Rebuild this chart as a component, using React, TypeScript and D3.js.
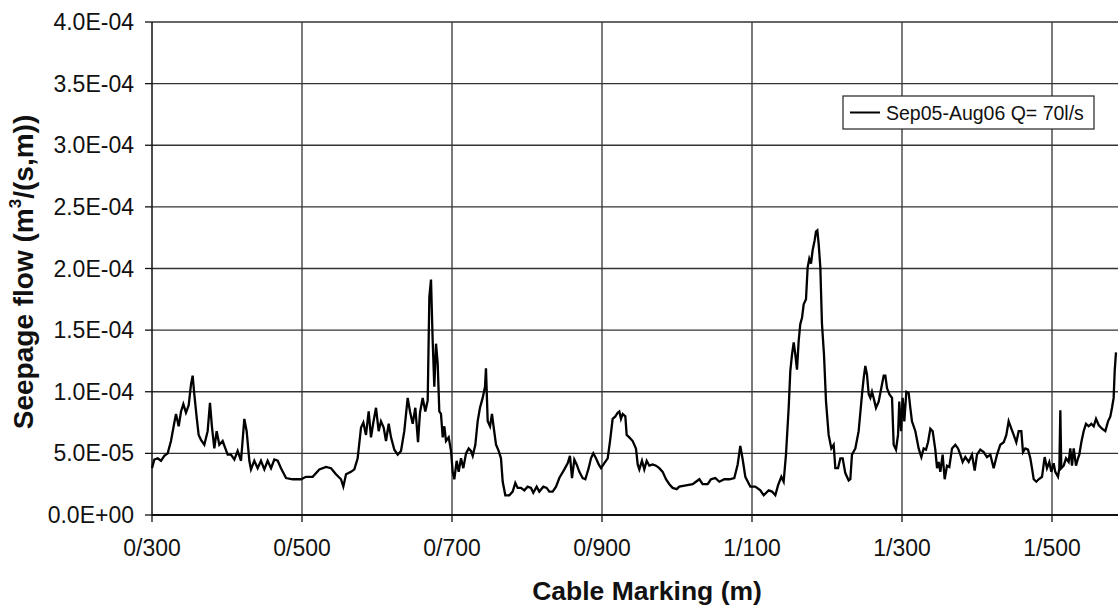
import React from 'react';
import * as d3 from 'd3';

// cable marking (m) and seepage flow (x 1E-05 m3/(s,m))
const cableMarks = [
  300, 303.1, 307.6, 312, 316.4, 320.9, 325.3, 329.8, 332, 335.6, 338.7, 341.8, 345.3, 348.9, 352, 354.2,
  356.4, 359.6, 362.2, 365.3, 369.8, 374.2, 377.3, 380, 383.1, 386.2, 389.8, 394.2, 397.8, 400.9, 405.3,
  409.8, 414.2, 418.7, 423.1, 426.2, 429.8, 432, 436.4, 440.9, 445.3, 449.8, 454.2, 458.7, 463.1, 467.6,
  472, 478.7, 487.6, 498.7, 505.3, 514.2, 523.1, 532, 538.7, 545.3, 552, 555.1, 558.7, 565.3, 569.8,
  574.2, 578.7, 581.8, 585.3, 588.9, 592, 595.1, 598.7, 602.2, 605.3, 608.9, 612, 615.6, 618.7, 623.1,
  627.6, 632, 636.4, 640.9, 644, 647.6, 651.1, 654.7, 657.3, 660.9, 664.4, 667.6, 669.8, 672, 674.2,
  676.4, 678.7, 680.9, 683.1, 685.3, 687.6, 689.8, 692, 695.6, 698.7, 700.9, 703.1, 706.2, 708.9, 712,
  715.1, 718.7, 722.2, 725.3, 727.6, 731.1, 734.2, 737.3, 740.9, 744, 745.3, 747.6, 750.7, 753.3, 755.6,
  758.7, 762.2, 765.3, 767.6, 771.1, 776.4, 780.9, 784.4, 787.6, 792, 796.4, 800.9, 805.3, 808.4, 812.9,
  816.4, 821.8, 826.2, 829.8, 834.2, 838.7, 843.1, 849.8, 854.2, 857.3, 860, 863.1, 866.2, 869.8, 874.2,
  877.8, 882.2, 885.3, 888.4, 892, 895.6, 898.7, 903.1, 907.6, 910.7, 914.2, 917.8, 920.9, 923.1, 925.3,
  927.6, 931.1, 932.9, 936.4, 940.9, 945.3, 947.6, 949.8, 953.3, 956.4, 959.6, 963.1, 967.6, 972, 976.4,
  980.9, 985.3, 989.8, 994.2, 999.6, 1003.1, 1012, 1020.9, 1025.3, 1029.8, 1034.2, 1040.9, 1045.3, 1051.1,
  1056.4, 1063.1, 1069.8, 1076.4, 1080.9, 1084.4, 1087.6, 1091.1, 1097.8, 1104.4, 1111.1, 1115.6, 1122.2,
  1126.7, 1131.1, 1134.7, 1139.1, 1142.2, 1145.3, 1148.9, 1151.1, 1153.3, 1155.6, 1157.8, 1160, 1162.2,
  1164.4, 1166.7, 1168.9, 1172, 1174.2, 1176.4, 1178.7, 1180.9, 1183.6, 1185.3, 1187.1, 1188.9, 1191.1,
  1193.3, 1196, 1198.7, 1202.2, 1205.8, 1208.9, 1211.1, 1214.7, 1217.8, 1220.9, 1224.4, 1228.9, 1231.1,
  1233.3, 1237.8, 1242.2, 1246.7, 1248.9, 1251.1, 1253.3, 1255.6, 1257.8, 1260, 1262.2, 1265.3, 1268.9,
  1272.4, 1275.6, 1277.8, 1280, 1283.1, 1286.7, 1288.9, 1292, 1294.7, 1296.4, 1298.7, 1300.9, 1303.1,
  1305.8, 1308.9, 1311.1, 1313.3, 1317.8, 1322.2, 1325.8, 1328.9, 1332, 1334.7, 1337.8, 1340.9, 1344.4,
  1346.7, 1348.9, 1351.1, 1354.2, 1356.9, 1360, 1363.1, 1366.7, 1371.1, 1374.7, 1377.8, 1380.9, 1384.4,
  1388.9, 1393.3, 1396.9, 1400, 1404.4, 1408.9, 1413.3, 1417.8, 1422.2, 1426.7, 1431.1, 1435.6, 1439.1,
  1442.2, 1445.8, 1448.9, 1452.4, 1455.6, 1459.1, 1461.3, 1464.4, 1468, 1471.1, 1473.3, 1475.6, 1479.1,
  1482.2, 1486.7, 1490.2, 1493.3, 1496.4, 1499.1, 1502.2, 1504.4, 1508, 1509.8, 1511.1, 1512.4, 1515.6,
  1518.7, 1522.2, 1524.4, 1526.7, 1528.9, 1532, 1534.7, 1536.4, 1539.1, 1542.2, 1545.3, 1548.9, 1552.4,
  1555.6, 1558.7, 1562.2, 1566.7, 1571.1, 1574.7, 1577.8, 1580, 1582.2, 1583.6, 1585.3,
];

const seepage = [
  3.8, 4.5, 4.6, 4.4, 4.8, 5.0, 6.0, 7.5, 8.2, 7.2, 8.4, 9.0, 8.3, 8.9, 10.6, 11.3,
  9.8, 7.9, 6.5, 6.1, 5.7, 6.8, 9.1, 7.1, 5.4, 6.8, 5.7, 6.0, 5.4, 4.9, 4.9,
  4.5, 5.2, 4.4, 7.8, 6.8, 4.4, 3.7, 4.4, 3.8, 4.4, 3.7, 4.4, 3.8, 4.5, 4.4,
  3.8, 3.0, 2.9, 2.9, 3.1, 3.1, 3.7, 3.9, 3.8, 3.3, 2.9, 2.3, 3.3, 3.5, 3.7,
  4.6, 7.1, 7.5, 6.5, 8.4, 6.3, 7.5, 8.7, 6.8, 7.6, 7.1, 6.0, 7.4, 6.3, 5.3,
  4.9, 5.2, 6.8, 9.5, 8.4, 7.4, 8.7, 5.9, 8.3, 9.5, 8.4, 9.3, 17.7, 19.1, 14.2,
  10.4, 13.9, 12.3, 8.4, 8.2, 6.3, 7.2, 6.0, 6.3, 5.2, 3.5, 2.9, 4.4, 3.5, 4.6,
  3.8, 5.0, 5.4, 5.2, 4.8, 5.7, 7.6, 8.7, 9.5, 10.4, 11.9, 7.6, 7.2, 8.2, 7.1,
  5.7, 5.2, 4.6, 2.7, 1.6, 1.6, 1.9, 2.6, 2.2, 2.2, 2.0, 2.3, 2.2, 1.8, 2.3,
  1.9, 2.3, 2.2, 1.9, 1.9, 2.3, 3.0, 3.7, 4.2, 4.8, 3.0, 4.5, 4.1, 3.5, 3.0,
  2.9, 3.8, 4.6, 5.0, 4.6, 4.1, 3.8, 4.2, 4.6, 6.0, 7.8, 8.0, 8.3, 8.4, 7.8,
  8.2, 8.0, 6.5, 6.3, 6.0, 5.4, 4.1, 3.7, 4.4, 3.7, 4.4, 4.0, 4.1, 4.0, 3.8,
  3.5, 2.9, 2.5, 2.2, 2.1, 2.3, 2.4, 2.5, 2.7, 2.9, 2.5, 2.5, 2.9, 3.0,
  2.7, 2.9, 2.9, 3.0, 4.1, 5.6, 4.5, 3.1, 2.3, 2.3, 2.0, 1.6, 2.0,
  1.9, 1.6, 2.4, 3.1, 2.7, 4.9, 8.7, 11.7, 13.0, 14.0, 13.0, 11.8, 14.1,
  15.5, 16.0, 17.1, 17.5, 20.1, 20.8, 20.4, 21.5, 22.3, 23.0, 23.1, 22.0, 20.1,
  15.5, 13.0, 9.2, 6.5, 5.4, 5.7, 3.8, 3.8, 4.6, 4.6, 3.4, 2.8, 2.9,
  4.9, 5.4, 6.8, 9.8, 11.1, 12.1, 11.4, 9.8, 9.5, 10.0, 9.5, 8.7, 9.2,
  10.3, 11.3, 11.3, 10.3, 9.8, 9.5, 5.7, 5.3, 6.5, 9.2, 6.8, 9.5, 7.6,
  10.0, 9.9, 8.7, 7.6, 6.8, 5.4, 4.7, 5.4, 5.3, 5.9, 7.0, 6.8, 5.3,
  3.8, 4.3, 3.5, 4.9, 2.9, 4.0, 3.9, 5.4, 5.7, 5.4, 4.9, 4.3, 4.7,
  4.3, 4.9, 3.6, 4.9, 5.3, 5.1, 4.7, 4.9, 3.8, 4.9, 5.7, 5.9, 6.5,
  7.6, 7.0, 6.5, 5.9, 6.8, 6.8, 5.1, 5.4, 5.3, 4.6, 3.8, 2.9, 2.7,
  2.9, 3.1, 4.7, 3.8, 4.3, 3.5, 4.2, 3.5, 3.1, 3.8, 8.5, 3.8, 4.0,
  4.6, 4.3, 5.4, 4.0, 5.4, 4.0, 4.6, 4.9, 5.9, 6.8, 7.4, 7.2, 7.4,
  7.2, 7.8, 7.3, 7.0, 6.8, 7.6, 8.0, 8.7, 9.5, 11.7, 13.2,
];

const yTickValues = [0, 5e-5, 1e-4, 1.5e-4, 2e-4, 2.5e-4, 3e-4, 3.5e-4, 4e-4];
const xTickValues = [300, 500, 700, 900, 1100, 1300, 1500];
const seriesName = 'Sep05-Aug06 Q= 70l/s';

const FONT = '"Liberation Sans", Arial, sans-serif';

const fmtSci = (v: number) => {
  if (v === 0) return '0.0E+00';
  const [mant, ex] = v.toExponential(1).split('e');
  const e = +ex;
  return `${mant}E${e < 0 ? '-' : '+'}${String(Math.abs(e)).padStart(2, '0')}`;
};
const fmtMark = (m: number) => `${Math.floor(m / 1000)}/${String(m % 1000).padStart(3, '0')}`;

export default function App() {
  const width = 1120;
  const height = 606;
  const margin = { top: 22, right: 2, bottom: 91, left: 152 };

  const x = d3.scaleLinear()
    .domain([300, 1588])
    .range([margin.left, width - margin.right]);
  const y = d3.scaleLinear()
    .domain([0, 4e-4])
    .range([height - margin.bottom, margin.top]);

  const points = cableMarks.map((m, i) => [m, seepage[i] * 1e-5] as [number, number]);
  const line = d3.line<[number, number]>()
    .x(d => x(d[0]))
    .y(d => y(d[1]));

  const x0 = x.range()[0];
  const x1 = x.range()[1];
  const yb = y(0);

  return (
    <svg width={width} height={height} style={{ position: 'absolute', left: 0, top: 0, background: '#fff' }}>
      <rect width={width} height={height} fill="#fff" />
      {/* gridlines */}
      {yTickValues.filter(v => v > 0).map(v => (
        <line key={'gy' + v} x1={x0} x2={x1} y1={y(v)} y2={y(v)} stroke="#333" strokeWidth={1.3} />
      ))}
      {xTickValues.filter(v => v > 300).map(v => (
        <line key={'gx' + v} x1={x(v)} x2={x(v)} y1={y(4e-4)} y2={yb} stroke="#333" strokeWidth={1.3} />
      ))}
      {/* axes */}
      <line x1={x0} x2={x0} y1={y(4e-4)} y2={yb} stroke="#111" strokeWidth={1.5} />
      <line x1={x0} x2={x1} y1={yb} y2={yb} stroke="#111" strokeWidth={2} />
      {yTickValues.map(v => (
        <g key={'ty' + v}>
          <line x1={x0 - 7} x2={x0} y1={y(v)} y2={y(v)} stroke="#111" strokeWidth={1.3} />
          <text x={134} y={y(v) + 8} textAnchor="end" fontFamily={FONT} fontSize={23} fill="#111">{fmtSci(v)}</text>
        </g>
      ))}
      {xTickValues.map(v => (
        <g key={'tx' + v}>
          <line x1={x(v)} x2={x(v)} y1={yb} y2={yb + 7} stroke="#111" strokeWidth={1.3} />
          <text x={x(v)} y={556} textAnchor="middle" fontFamily={FONT} fontSize={23} fill="#111">{fmtMark(v)}</text>
        </g>
      ))}
      {/* series */}
      <path d={line(points) ?? ''} fill="none" stroke="#000" strokeWidth={2.3} strokeLinejoin="miter" />
      {/* axis titles */}
      <text x={647} y={600} textAnchor="middle" fontFamily={FONT} fontSize={26.5} fontWeight="bold" fill="#111">
        Cable Marking (m)
      </text>
      <text transform="translate(33,272) rotate(-90)" textAnchor="middle" fontFamily={FONT} fontSize={28} fontWeight="bold" fill="#111">
        Seepage flow (m<tspan fontSize={17} dy={-12}>3</tspan><tspan dy={12}>/(s,m))</tspan>
      </text>
      {/* legend */}
      <g>
        <rect x={843} y={96} width={251} height={33} fill="#fff" stroke="#222" strokeWidth={1.2} />
        <line x1={850} x2={880} y1={112.5} y2={112.5} stroke="#000" strokeWidth={2} />
        <text x={886} y={119.5} fontFamily={FONT} fontSize={19.5} fill="#111">{seriesName}</text>
      </g>
    </svg>
  );
}
